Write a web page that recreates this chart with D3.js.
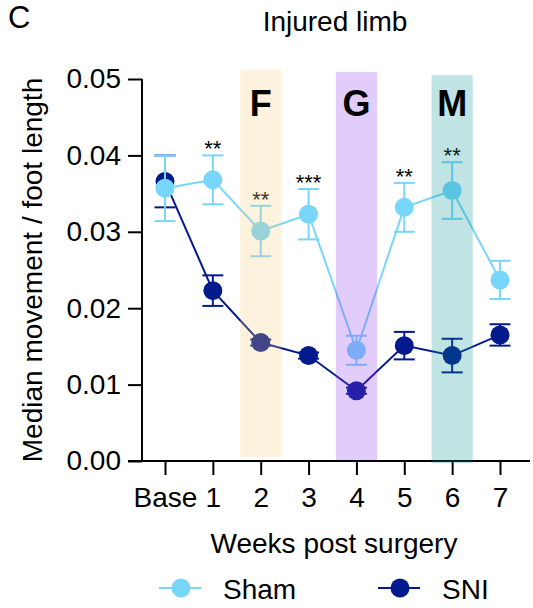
<!DOCTYPE html>
<html>
<head>
<meta charset="utf-8">
<script src="https://cdn.jsdelivr.net/npm/d3@7"></script>
<style>
  html, body { margin: 0; padding: 0; background: #fff; }
  svg { display: block; font-family: "Liberation Sans", Arial, Helvetica, sans-serif; }
</style>
</head>
<body>
<svg id="chart" width="533" height="608"></svg>
<script>
// Time points (weeks after surgery)
const weeks = ["Base", "1", "2", "3", "4", "5", "6", "7"];

// Median movement / foot length, mean and SEM per group
const shamMean = [0.0357, 0.0368, 0.0301, 0.0323, 0.0145, 0.0332, 0.0354, 0.0237];
const shamSem  = [0.0043, 0.0032, 0.0033, 0.0033, 0.0019, 0.0032, 0.0037, 0.0025];
const sniMean  = [0.0366, 0.0223, 0.0155, 0.0138, 0.0092, 0.0151, 0.0138, 0.0165];
const sniSem   = [0.0034, 0.0020, 0.0004, 0.0004, 0.0004, 0.0018, 0.0022, 0.0014];

// Significance marks (Sham vs SNI)
const starWeeks = ["1", "2", "3", "5", "6"];
const starText  = ["**", "**", "***", "**", "**"];

// Highlighted weeks with their labels
const bandWeeks  = ["2", "4", "6"];
const bandLabels = ["F", "G", "M"];
const bandTop    = [0.0512, 0.0509, 0.0505];
const bandBottom = [0.0005, 0.0001, -0.0003];

const yTicks = [0, 0.01, 0.02, 0.03, 0.04, 0.05];

const colors = { sham: "#78d6fb", sni: "#031a8e" };
const bandFill = ["#f7cb77", "#8b33f3", "#038f8f"];

const FONT = 28;
const svg = d3.select("#chart");

const x = d3.scalePoint().domain(weeks).range([165, 500]);
const y = d3.scaleLinear().domain([0, 0.05]).range([461, 79]);

// Y axis
const yAxis = svg.append("g")
  .attr("transform", "translate(142,0)")
  .call(d3.axisLeft(y).tickValues(yTicks).tickFormat(d3.format(".2f")).tickSize(14).tickPadding(7));
yAxis.select(".domain").attr("d", `M0,${y(0.05)}V${y(0)}`);

// X axis
const xAxis = svg.append("g")
  .attr("transform", `translate(0,${y(0)})`)
  .call(d3.axisBottom(x).tickSize(14).tickPadding(12));
xAxis.select(".domain").attr("d", "M128,0H530");

[yAxis, xAxis].forEach(g => {
  g.selectAll("path, line").attr("stroke", "#000").attr("stroke-width", 2);
  g.selectAll("text").attr("fill", "#000").style("font-size", FONT + "px")
    .style("font-family", "'Liberation Sans', Arial, sans-serif");
});

// Series
const series = [
  { key: "sni", mean: sniMean, sem: sniSem },
  { key: "sham", mean: shamMean, sem: shamSem }
];
const capW = 10.5;

series.forEach(s => {
  const g = svg.append("g").attr("class", s.key);
  const pts = weeks.map((w, i) => ({ w, m: s.mean[i], e: s.sem[i] }));
  g.append("path")
    .datum(pts)
    .attr("fill", "none")
    .attr("stroke", colors[s.key])
    .attr("stroke-width", 2)
    .attr("d", d3.line().x(d => x(d.w)).y(d => y(d.m)));
  const eb = g.selectAll(".err").data(pts).join("g").attr("class", "err")
    .attr("stroke", colors[s.key]).attr("stroke-width", 2);
  eb.append("line").attr("x1", d => x(d.w)).attr("x2", d => x(d.w))
    .attr("y1", d => y(d.m + d.e)).attr("y2", d => y(d.m - d.e));
  eb.append("line").attr("x1", d => x(d.w) - capW).attr("x2", d => x(d.w) + capW)
    .attr("y1", d => y(d.m + d.e)).attr("y2", d => y(d.m + d.e));
  eb.append("line").attr("x1", d => x(d.w) - capW).attr("x2", d => x(d.w) + capW)
    .attr("y1", d => y(d.m - d.e)).attr("y2", d => y(d.m - d.e));
  g.selectAll("circle").data(pts).join("circle")
    .attr("cx", d => x(d.w)).attr("cy", d => y(d.m)).attr("r", 9.5)
    .attr("fill", colors[s.key]);
});

// Significance asterisks above the Sham error bars
starWeeks.forEach((w, i) => {
  const idx = weeks.indexOf(w);
  svg.append("text")
    .attr("x", x(w)).attr("y", y(shamMean[idx] + shamSem[idx]) + 1)
    .attr("text-anchor", "middle")
    .style("font-size", "22px")
    .attr("fill", "#000")
    .text(starText[i]);
});

// Translucent week bands laid over the data
const bandW = x.step() * 0.86;
bandWeeks.forEach((w, i) => {
  svg.append("rect")
    .attr("x", x(w) - bandW / 2)
    .attr("width", bandW)
    .attr("y", y(bandTop[i]))
    .attr("height", y(bandBottom[i]) - y(bandTop[i]))
    .attr("fill", bandFill[i])
    .attr("fill-opacity", 0.25);
  svg.append("text")
    .attr("x", x(w)).attr("y", 116)
    .attr("text-anchor", "middle")
    .style("font-size", "36px").style("font-weight", "bold")
    .attr("fill", "#000")
    .text(bandLabels[i]);
});

// Titles
svg.append("text").attr("x", 8).attr("y", 28).style("font-size", "31px").text("C");
svg.append("text").attr("x", 335).attr("y", 31).attr("text-anchor", "middle")
  .style("font-size", FONT + "px").text("Injured limb");
svg.append("text").attr("x", 334).attr("y", 553).attr("text-anchor", "middle")
  .style("font-size", FONT + "px").text("Weeks post surgery");
svg.append("text")
  .attr("transform", `translate(42,${(y(0) + y(0.05)) / 2}) rotate(-90)`)
  .attr("text-anchor", "middle")
  .style("font-size", FONT + "px")
  .text("Median movement / foot length");

// Legend
const legend = [
  { key: "sham", label: "Sham", x0: 159 },
  { key: "sni", label: "SNI", x0: 378 }
];
legend.forEach(l => {
  const g = svg.append("g").attr("transform", `translate(${l.x0},588)`);
  g.append("line").attr("x1", 0).attr("x2", 42).attr("stroke", colors[l.key]).attr("stroke-width", 2);
  g.append("circle").attr("cx", 22).attr("r", 9.5).attr("fill", colors[l.key]);
  g.append("text").attr("x", 64).attr("y", 11).style("font-size", FONT + "px").text(l.label);
});
</script>
</body>
</html>
